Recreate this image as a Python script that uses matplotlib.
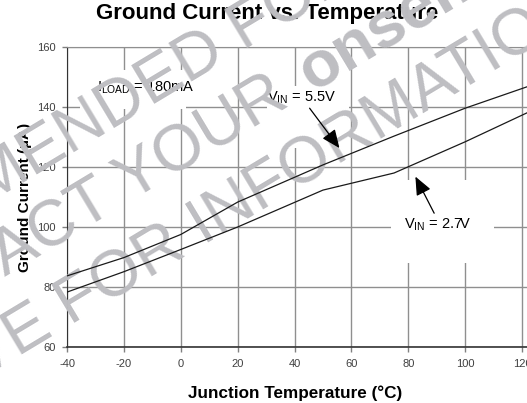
import matplotlib
matplotlib.use('Agg')
import matplotlib.pyplot as plt
from matplotlib.patches import Rectangle

plt.rcParams['font.family'] = ['Liberation Sans', 'DejaVu Sans']
plt.rcParams['mathtext.fontset'] = 'custom'
plt.rcParams['mathtext.rm'] = 'Liberation Sans'
plt.rcParams['mathtext.bf'] = 'Liberation Sans:bold'
plt.rcParams['axes.unicode_minus'] = False

# data
temp_c = [-40, -20, 0, 20, 50, 75, 100, 125]
i_gnd_5v5 = [83.7, 89.8, 97.5, 108.3, 120.7, 130.3, 139.6, 147.8]
i_gnd_2v7 = [78.3, 85.1, 92.5, 100.0, 112.3, 118.0, 128.4, 139.5]
x_ticks = [-40, -20, 0, 20, 40, 60, 80, 100, 120]
y_ticks = [60, 80, 100, 120, 140, 160]

W, H = 527, 403
fig = plt.figure(figsize=(W / 100, H / 100), dpi=100)
ax = fig.add_axes([67 / W, 56 / H, 465 / W, 300 / H])

ax.plot(temp_c, i_gnd_5v5, color='#1a1a1a', lw=0.9, zorder=5)
ax.plot(temp_c, i_gnd_2v7, color='#1a1a1a', lw=0.9, zorder=5)

ax.set_xlim(-40, 123.5)
ax.set_ylim(60, 160)
ax.set_xticks(x_ticks)
ax.set_yticks(y_ticks)
ax.set_axisbelow(True)
ax.grid(color='#8f8f8f', lw=1.0)
ax.tick_params(length=3.6, width=1, color='#808080', labelsize=8, labelcolor='#404040')
ax.tick_params(axis='y', pad=4.3)
ax.tick_params(axis='x', pad=5)
ax.spines['right'].set_visible(False)
ax.spines['top'].set_color('#8f8f8f')
ax.spines['left'].set_color('#333333')
ax.spines['bottom'].set_color('#333333')
ax.spines['bottom'].set_linewidth(1.2)

# white label boxes that interrupt the grid
for x0, x1, y0, y1 in [(-35.4, 1.9, 139.3, 152.3), (30.2, 59.3, 126.5, 147.0), (74.0, 110.2, 88.0, 115.7)]:
    ax.add_patch(Rectangle((x0, y0), x1 - x0, y1 - y0, facecolor='white', edgecolor='none', zorder=1))

ax.text(-12.3, 146.3, r'I$_{\mathrm{LOAD}}$ = 180mA', ha='center', va='center', fontsize=10.5, zorder=3)
ax.text(42.5, 143.0, r'V$_{\mathrm{IN}}$ = 5.5V', ha='center', va='center', fontsize=10.5, zorder=3)
ax.text(90.5, 100.7, r'V$_{\mathrm{IN}}$ = 2.7V', ha='center', va='center', fontsize=10.5, zorder=3)

arrow = dict(arrowstyle='-|>,head_length=0.75,head_width=0.32', color='black', lw=0.9,
             mutation_scale=15, shrinkA=0, shrinkB=0)
ax.annotate('', xy=(55.8, 126.3), xytext=(45.3, 139.6), arrowprops=arrow, zorder=6)
ax.annotate('', xy=(82.5, 116.8), xytext=(89.1, 104.6), arrowprops=arrow, zorder=6)

ax.set_title('Ground Current vs. Temperature', fontsize=16, fontweight='bold', x=0.431, y=1.067)
ax.set_xlabel('Junction Temperature (°C)', fontsize=12.3, fontweight='bold')
ax.xaxis.set_label_coords(0.49, -0.127)
ax.set_ylabel('Ground Current (µA)', fontsize=11, fontweight='bold')
ax.yaxis.set_label_coords(-0.0753, 0.5)

# diagonal watermark
wm = dict(transform=fig.transFigure, rotation=31, rotation_mode='anchor', va='baseline',
          fontsize=46.8, color='#bebec2', zorder=4, clip_on=False)
ax.text(191 / W, 1 - 82.8 / H, 'NOT RECOMMENDED FOR NEW DESIGN', ha='center', **wm)
ax.text(-148.7 / W, 1 - 369.7 / H, 'CONTACT YOUR', ha='left', **wm)
ax.text(312 / W, 1 - 92 / H, 'onsemi', ha='left', fontweight='bold', **wm)
ax.text(76 / W, 1 - 323 / H, 'REPRESENTATIVE FOR INFORMATION', ha='center', **wm)

fig.savefig('out.png', dpi=100)
